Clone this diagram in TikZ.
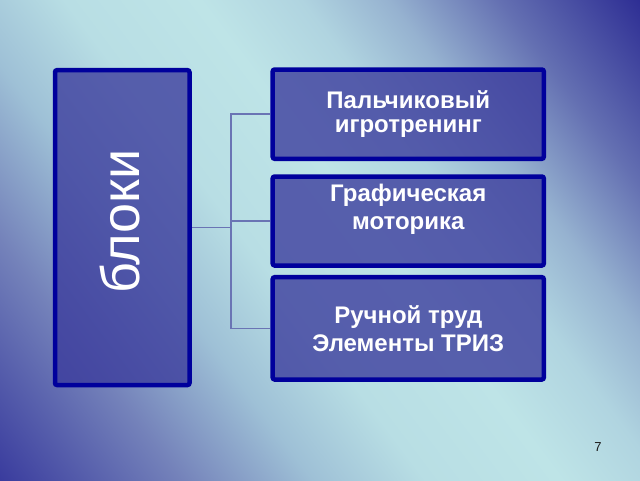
\documentclass[tikz,border=0pt]{standalone}
\usepackage{fontspec}
\setmainfont{Liberation Sans}
\definecolor{bgA}{HTML}{3A3C9E}
\definecolor{bgB}{HTML}{7482BA}
\definecolor{bgC}{HTML}{9EC0D6}
\definecolor{bgD}{HTML}{B8DEE4}
\definecolor{bgE}{HTML}{BEE4E7}
\definecolor{bgF}{HTML}{B0D4E0}
\definecolor{bgG}{HTML}{96B2D0}
\definecolor{bgH}{HTML}{6470B2}
\definecolor{bgI}{HTML}{2E2E94}
\definecolor{boxfill}{HTML}{3A3A9C}
\definecolor{boxborder}{HTML}{00009C}
\definecolor{linkcol}{HTML}{6A74B4}
\definecolor{pagecol}{HTML}{1A1A1A}
\pgfdeclarehorizontalshading{bgshade}{100bp}{color(0bp)=(bgA); color(25bp)=(bgA); color(34bp)=(bgB); color(40.6bp)=(bgC); color(46.25bp)=(bgD); color(53bp)=(bgE); color(58.1bp)=(bgF); color(62.5bp)=(bgG); color(68bp)=(bgH); color(75bp)=(bgI); color(100bp)=(bgI)}
\pgfdeclarelayer{bglayer}
\pgfdeclarelayer{linklayer}
\pgfsetlayers{bglayer,linklayer,main}
\tikzset{
  blockbox/.style={draw=boxborder, line width=4.5pt, rounded corners=2pt,
    fill=boxfill, fill opacity=0.78, text opacity=1, text=white,
    inner sep=0pt, align=center},
  itemfont/.style={font=\bfseries\fontsize{24}{28.3}\selectfont},
  link/.style={draw=linkcol, line width=1.6pt},
}
\begin{document}
\begin{tikzpicture}[x=1pt, y=-1pt]
\useasboundingbox (0,0) rectangle (640,480);
\begin{pgfonlayer}{bglayer}
  \begin{scope}
    \clip (0,0) rectangle (640,480);
    \shade[shading=bgshade, shading angle=37] (-80,-160) rectangle (720,640);
  \end{scope}
\end{pgfonlayer}

\node[blockbox, minimum width=134.5pt, minimum height=314.8pt] (blocks) at (122.25,227.6) {};
\node[rotate=90, text=white, inner sep=0pt, font=\fontsize{54}{60}\selectfont] (blockslabel) at (120,221.5) {блоки};

\node[blockbox, itemfont, font=\bfseries\fontsize{24}{23.6}\selectfont, minimum width=271.1pt, minimum height=89.3pt] (item1) at (408.25,114.15) {Пальчиковый\\игротренинг};
\node[blockbox, itemfont, minimum width=271.1pt, minimum height=89pt] (item2) at (408.25,221) {Графическая\\моторика\\~};
\node[blockbox, itemfont, minimum width=271.1pt, minimum height=102.3pt] (item3) at (408.25,328.35) {Ручной труд\\Элементы ТРИЗ};

\coordinate (trunk) at (230.7,227.6);
\begin{pgfonlayer}{linklayer}
  \draw[link] (blocks.east) -- (trunk);
  \draw[link] (trunk) |- (item1.west);
  \draw[link] (trunk) |- (item2.west);
  \draw[link] (trunk) |- (item3.west);
\end{pgfonlayer}

\node[text=pagecol, inner sep=0pt, font=\fontsize{13}{15}\selectfont] (pagenum) at (598,447.5) {7};
\end{tikzpicture}
\end{document}
